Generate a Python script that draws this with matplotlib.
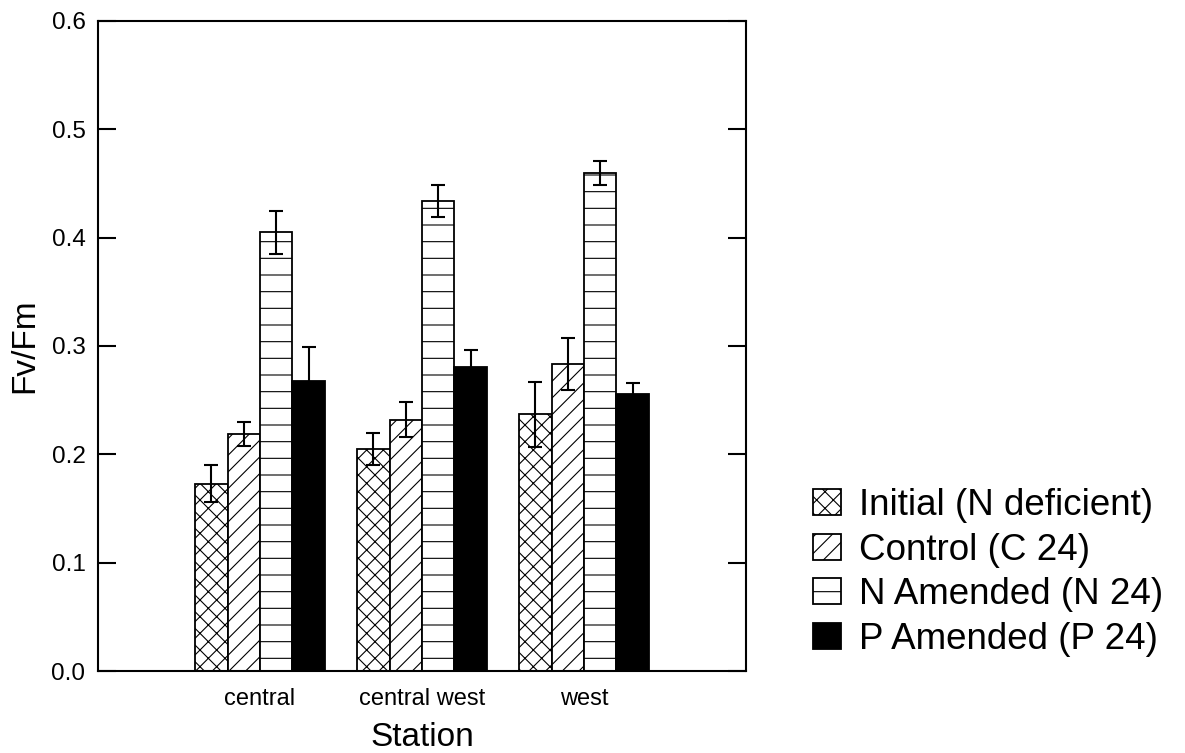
#!/usr/bin/env python3
# -*- coding: utf-8 -*-

import numpy as np
import matplotlib
matplotlib.use('Agg')
import matplotlib.pyplot as plt

# stations and treatments
stations = ['central', 'central west', 'west']
treatments = ['Initial (N deficient)', 'Control (C 24)',
              'N Amended (N 24)', 'P Amended (P 24)']

# mean Fv/Fm per station, one list per treatment
initial   = [0.173, 0.205, 0.237]
control   = [0.219, 0.232, 0.283]
n_amended = [0.405, 0.434, 0.460]
p_amended = [0.268, 0.281, 0.256]

# standard errors
initial_err   = [0.017, 0.015, 0.030]
control_err   = [0.011, 0.016, 0.024]
n_amended_err = [0.020, 0.015, 0.011]
p_amended_err = [0.031, 0.015, 0.010]

y_ticks = [0.0, 0.1, 0.2, 0.3, 0.4, 0.5, 0.6]


def main():

	plt.rcParams['font.family'] = ['Liberation Sans', 'DejaVu Sans']
	plt.rcParams['hatch.linewidth'] = 0.8
	plt.rcParams['hatch.color'] = 'black'

	W, H = 1185, 753
	fig = plt.figure(figsize=(W/100, H/100), dpi=100)
	ax = fig.add_axes([98/W, 1 - 671/H, 648/W, 650/H])

	means = [initial, control, n_amended, p_amended]
	errs = [initial_err, control_err, n_amended_err, p_amended_err]
	faces = ['white', 'white', 'white', 'black']
	hatches = ['xx', '//', '-', None]

	x = np.arange(1, len(stations) + 1)
	width = 0.2
	offsets = (np.arange(len(treatments)) - 1.5)*width

	for k in range(len(treatments)):
		ax.bar(x + offsets[k], means[k], width,
		       color=faces[k], edgecolor='black', linewidth=1.3,
		       hatch=hatches[k], label=treatments[k], zorder=2)
		ax.errorbar(x + offsets[k], means[k], yerr=errs[k],
		            fmt='none', ecolor='black', elinewidth=1.5,
		            capsize=5, capthick=1.5, zorder=3)

	ax.set_xlim(0, 4)
	ax.set_ylim(0, 0.6)
	ax.set_yticks(y_ticks)
	ax.set_yticklabels(['%.1f' % v for v in y_ticks])
	ax.set_xticks(x)
	ax.set_xticklabels(stations)

	ax.tick_params(axis='y', direction='in', length=13, width=1.5,
	               left=True, right=True, labelsize=17.5, pad=9)
	ax.tick_params(axis='x', length=0, labelsize=17, pad=12)
	for s in ax.spines.values():
		s.set_linewidth(1.5)

	ax.set_ylabel('Fv/Fm', fontsize=24, labelpad=8)
	ax.set_xlabel('Station', fontsize=24, labelpad=9)

	fig.legend(loc='upper left', bbox_to_anchor=(813/W, 1 - 488/H),
	           frameon=False, fontsize=26.5, handlelength=0.76,
	           handleheight=0.72, handletextpad=0.5, labelspacing=0.26,
	           borderpad=0, borderaxespad=0)

	fig.savefig('out.png', dpi=100)


if __name__ == "__main__":
	main()
